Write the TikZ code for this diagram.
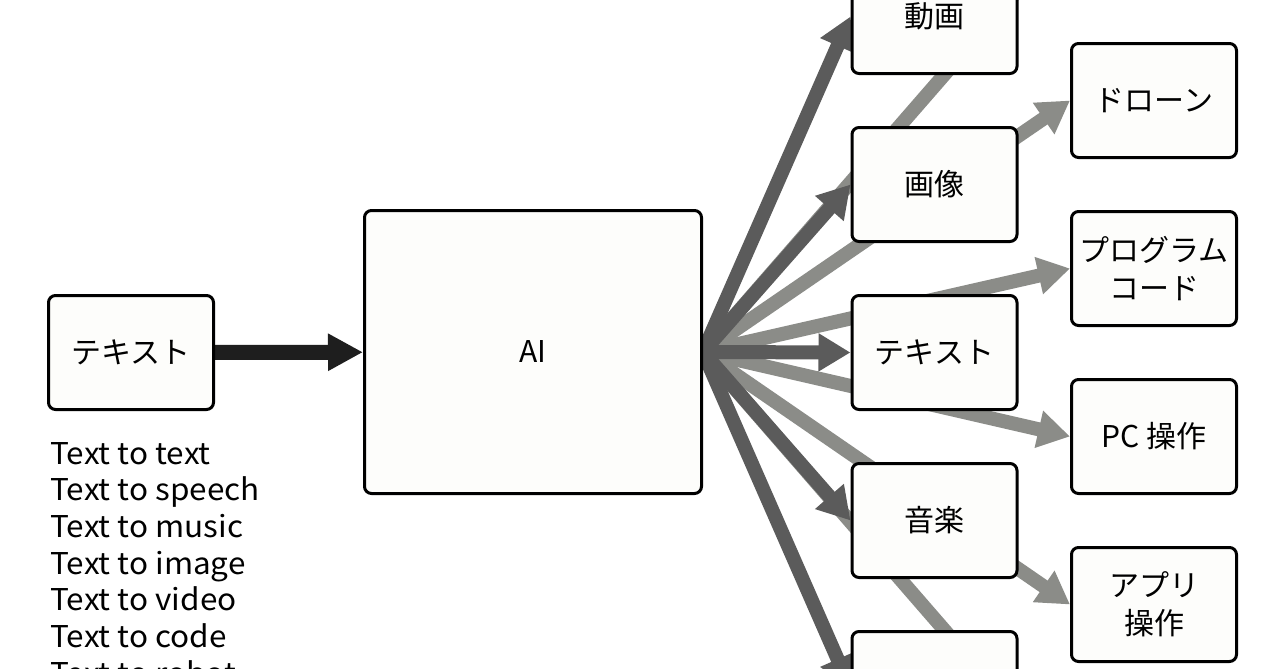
\documentclass[tikz,border=0pt]{standalone}
\usepackage{fontspec}
\setmainfont{Noto Sans CJK JP}
\newfontfamily\listfont[FakeStretch=1.05]{Noto Sans CJK JP}
\usetikzlibrary{arrows.meta}
\pgfdeclarelayer{background}
\pgfsetlayers{background,main}
\definecolor{darkarrow}{HTML}{5B5B5B}
\definecolor{lightarrow}{HTML}{8B8C88}
\definecolor{blackarrow}{HTML}{1E1E1E}
\definecolor{boxfill}{HTML}{FDFDFB}
\begin{document}
\begin{tikzpicture}[x=0.5pt,y=-0.5pt,
  box/.style={draw=black, line width=1.5pt, rounded corners=3.5pt, fill=boxfill,
    minimum width=82.5pt, minimum height=57pt, inner sep=0pt, align=center,
    font=\fontsize{15}{19}\selectfont},
  bigbox/.style={box, minimum width=168.5pt, minimum height=141.5pt},
  darkarr/.style={draw=darkarrow, line width=7pt, -{Triangle[length=16pt,width=18pt]}},
  lightarr/.style={draw=lightarrow, line width=7pt, -{Triangle[length=16pt,width=18pt]}},
  mainarr/.style={draw=blackarrow, line width=7.5pt, -{Triangle[length=17.5pt,width=17.5pt]}},
  listtext/.style={anchor=base west, inner sep=0pt, font=\listfont\fontsize{15}{18}\selectfont}
]
\useasboundingbox (0,0) rectangle (1280,669);
% nodes
\node[box] (src) at (131,352.5) {テキスト};
\node[bigbox] (ai) at (533,352) {AI};
\node[box] (mVideo) at (934.5,16.5) {動画};
\node[box] (mImage) at (934.5,184.5) {画像};
\node[box] (mText) at (934.5,352.5) {テキスト};
\node[box] (mMusic) at (934.5,520.5) {音楽};
\node[box] (mBottom) at (934.5,688.5) {};
\node[box] (rDrone) at (1154,100.5) {ドローン};
\node[box] (rCode) at (1154,268.5) {プログラム\\コード};
\node[box] (rPC) at (1154,436.5) {PC 操作};
\node[box] (rApp) at (1154,604.5) {アプリ\\操作};
\coordinate (rTop) at (1068,-67.5);
\coordinate (rBot) at (1068,772.5);
\foreach \txt [count=\i] in {text,speech,music,image,video,code,robot}
  \node[listtext] (l\i) at (50,{464+36.7*(\i-1)}) {Text to \txt};
% connectors
\begin{pgfonlayer}{background}
  \fill[white] (0,0) rectangle (1280,669);
  \draw[lightarr] (ai.east) -- (rTop);
  \draw[lightarr] (ai.east) -- (rDrone.west);
  \draw[lightarr] (ai.east) -- (rCode.west);
  \draw[lightarr] (ai.east) -- (rPC.west);
  \draw[lightarr] (ai.east) -- (rApp.west);
  \draw[lightarr] (ai.east) -- (rBot);
  \draw[darkarr] (ai.east) -- (mVideo.west);
  \draw[darkarr] (ai.east) -- (mImage.west);
  \draw[darkarr] (ai.east) -- (mText.west);
  \draw[darkarr] (ai.east) -- (mMusic.west);
  \draw[darkarr] (ai.east) -- (mBottom.west);
  \draw[mainarr] (src) -- (ai);
\end{pgfonlayer}
\end{tikzpicture}
\end{document}
